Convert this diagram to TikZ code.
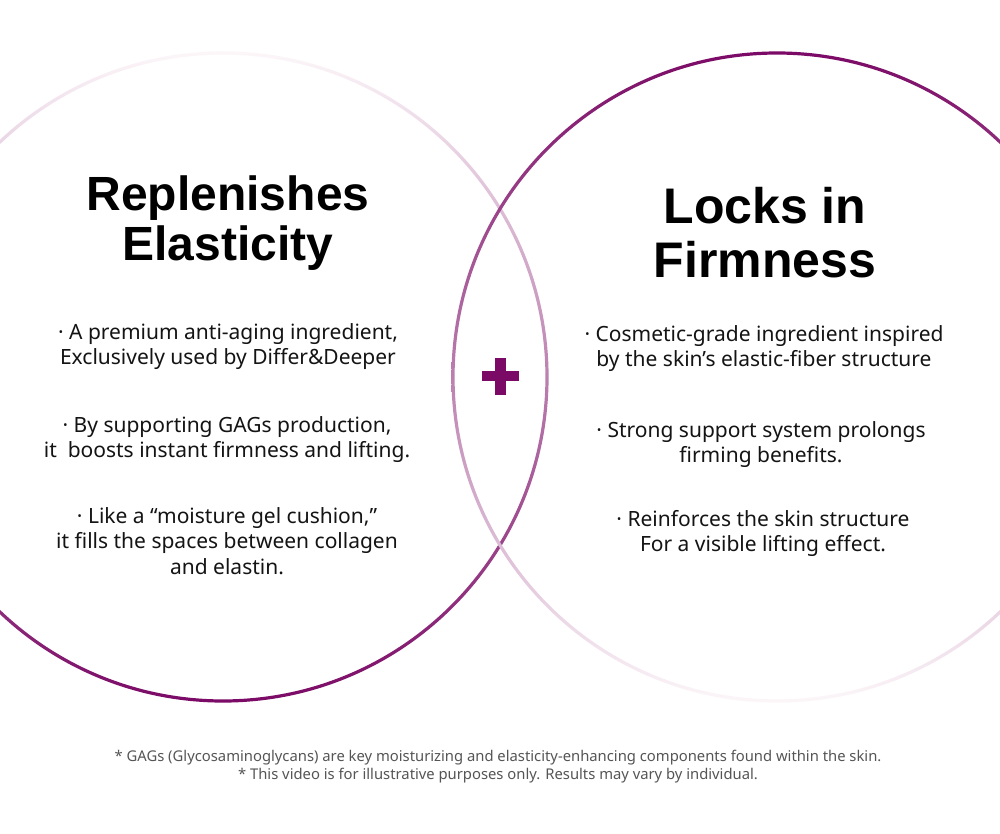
\documentclass[tikz,border=0pt]{standalone}
\usepackage{fontspec}
\setmainfont{Noto Sans}
\newfontfamily\headfont{Liberation Sans}
\usetikzlibrary{calc}

\definecolor{plum}{HTML}{7B0A66}
\definecolor{blush}{HTML}{FCF6F9}
\definecolor{notegray}{HTML}{555555}

\tikzset{
    heading/.style={align=center, anchor=base, inner sep=0pt,
        font=\headfont\bfseries\fontsize{48}{50}\selectfont},
    bulletbox/.style={align=center, anchor=base, inner sep=0pt,
        font=\fontsize{21}{25}\selectfont, text=black!92},
    notebox/.style={align=center, anchor=base, inner sep=0pt,
        font=\fontsize{14.8}{17.5}\selectfont, text=notegray},
}

\begin{document}
\begin{tikzpicture}[x=1pt,y=-1pt]
    \def\rad{324}
    \def\ring{1.6}

    \coordinate (LC) at (223,377);
    \coordinate (RC) at (777,377);

    % Canvas
    \fill[white] (0,0) rectangle (1000,834);
    \useasboundingbox (0,0) rectangle (1000,834);
    \clip (0,0) rectangle (1000,834);

    % Left Circle
    \shade[even odd rule, top color=blush, bottom color=plum]
        (LC) circle ({(\rad+\ring)*1pt}) (LC) circle ({(\rad-\ring)*1pt});

    % Right Circle
    \shade[even odd rule, top color=plum, bottom color=blush]
        (RC) circle ({(\rad+\ring)*1pt}) (RC) circle ({(\rad-\ring)*1pt});

    % Plus Sign
    \coordinate (PC) at (500.5,376);
    \fill[plum] ($(PC)+(-5.5,-18.5)$) rectangle ($(PC)+(5.5,18.5)$);
    \fill[plum] ($(PC)+(-18.5,-5)$) rectangle ($(PC)+(18.5,5)$);

    % Titles (base = last line)
    \node[heading] (lefttitle) at (228,260) {Replenishes\\Elasticity};
    \node[heading, font=\headfont\bfseries\fontsize{50}{54}\selectfont]
        (righttitle) at (765,277) {Locks in\\Firmness};

    % Left Points
    \node[bulletbox] (leftone) at (228,364) {· A premium anti-aging ingredient,\\Exclusively used by Differ\&Deeper};
    \node[bulletbox] (lefttwo) at (227,457) {· By supporting GAGs production,\\it\ \ boosts instant firmness and lifting.};
    \node[bulletbox, font=\fontsize{21}{25.5}\selectfont] (leftthree) at (227,574) {· Like a “moisture gel cushion,”\\it fills the spaces between collagen\\and elastin.};

    % Right Points
    \node[bulletbox] (rightone) at (764,366) {· Cosmetic-grade ingredient inspired\\by the skin’s elastic-fiber structure};
    \node[bulletbox] (righttwo) at (761,462) {· Strong support system prolongs\\firming benefits.};
    \node[bulletbox] (rightthree) at (763,551) {· Reinforces the skin structure\\For a visible lifting effect.};

    % Footnotes
    \node[notebox] (notes) at (498,779) {* GAGs (Glycosaminoglycans) are key moisturizing and elasticity-enhancing components found within the skin.\\* This video is for illustrative purposes only. Results may vary by individual.};
\end{tikzpicture}
\end{document}
